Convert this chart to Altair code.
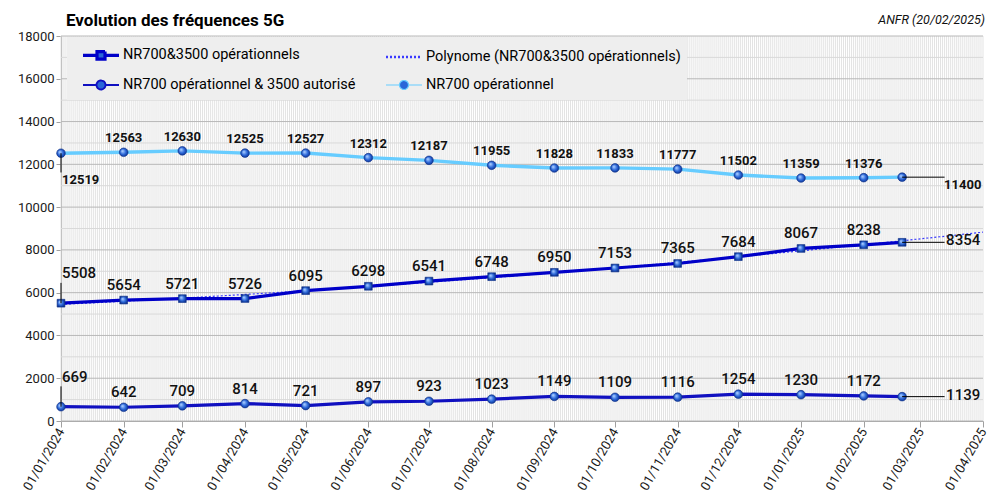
import altair as alt
import pandas as pd

# ---------------- data ----------------
dates = ["2024-01-01", "2024-02-01", "2024-03-01", "2024-04-01", "2024-05-01",
         "2024-06-01", "2024-07-01", "2024-08-01", "2024-09-01", "2024-10-01",
         "2024-11-01", "2024-12-01", "2025-01-01", "2025-02-01", "2025-02-20"]
nr700_3500_oper = [5508, 5654, 5721, 5726, 6095, 6298, 6541, 6748, 6950, 7153,
                   7365, 7684, 8067, 8238, 8354]
nr700_oper_3500_aut = [669, 642, 709, 814, 721, 897, 923, 1023, 1149, 1109,
                       1116, 1254, 1230, 1172, 1139]
nr700_oper = [12519, 12563, 12630, 12525, 12527, 12312, 12187, 11955, 11828,
              11833, 11777, 11502, 11359, 11376, 11400]
y_ticks = list(range(0, 18001, 2000))
x_start, x_end = "2024-01-01", "2025-04-01"
title_text = "Evolution des fréquences 5G"
source_text = "ANFR (20/02/2025)"

S1 = "NR700&3500 opérationnels"
S2 = "Polynome (NR700&3500 opérationnels)"
S3 = "NR700 opérationnel & 3500 autorisé"
S4 = "NR700 opérationnel"
series_order = [S1, S2, S3, S4]

rows = []
for name, vals in [(S1, nr700_3500_oper), (S3, nr700_oper_3500_aut), (S4, nr700_oper)]:
    for i, (d, v) in enumerate(zip(dates, vals)):
        rows.append({"date": d, "value": v, "series": name, "idx": i})
df = pd.DataFrame(rows)
LAST = len(dates) - 1

t0 = int(pd.Timestamp(x_start, tz="UTC").value // 10**6)
t1 = int(pd.Timestamp(x_end, tz="UTC").value // 10**6)

# ---------------- styles ----------------
FONT = "Roboto"
DARK = "#0000c8"
DARK2 = "#1010c0"
LIGHT = "#66ccff"
TREND = "#3a3aff"
MARKER = "#2a66d8"
sphere = alt.Gradient(gradient="radial",
                      stops=[alt.GradientStop(color="#a8ccff", offset=0),
                             alt.GradientStop(color="#2a66d8", offset=0.55),
                             alt.GradientStop(color="#0c2f8a", offset=1)],
                      x1=0.35, y1=0.35, r1=0.05, x2=0.5, y2=0.5, r2=0.55)

xscale = alt.Scale(type="utc",
                   domain=[alt.DateTime(year=2024, month=1, date=1, utc=True),
                           alt.DateTime(year=2025, month=4, date=1, utc=True)])
yscale = alt.Scale(domain=[0, 18000], nice=False)

xaxis = alt.Axis(format="%d/%m/%Y", tickCount="month",
                 labelAngle=300, labelAlign="right", labelBaseline="middle",
                 labelFontSize=13, labelFont=FONT, labelColor="#1a1a1a",
                 labelOverlap=False, labelPadding=2, tickSize=6,
                 tickColor="#a0a0a0", domainColor="#a0a0a0", grid=False,
                 title=None, labelBound=False, labelFlush=False)
yaxis = alt.Axis(values=y_ticks, format="d", grid=False, labelFontSize=13,
                 labelFont=FONT, labelColor="#1a1a1a", tickSize=5,
                 tickColor="#a0a0a0", domainColor="#a0a0a0", title=None,
                 labelPadding=2)

X = alt.X("date:T", scale=xscale, axis=xaxis)
Y = alt.Y("value:Q", scale=yscale, axis=yaxis)

# ---------------- grid ----------------
day_grid = alt.Chart(alt.sequence(0, 457, as_="d")).transform_calculate(
    day="utc(2024, 0, 1 + datum.d)"
).mark_rule(color="#e3e3e3", strokeWidth=1).encode(
    x=alt.X("day:T", scale=xscale, axis=xaxis))

minor_h = alt.Chart(alt.sequence(1000, 18000, 2000, as_="v")).mark_rule(
    color="#d9d9d9", strokeWidth=1).encode(y=alt.Y("v:Q", scale=yscale, axis=yaxis))
major_h = alt.Chart(alt.sequence(0, 18001, 2000, as_="v")).mark_rule(
    color="#b8b8b8", strokeWidth=1).encode(y=alt.Y("v:Q", scale=yscale, axis=yaxis))

base = alt.Chart(df)

# ---------------- trend ----------------
trend = base.transform_filter(alt.datum.series == S1).transform_calculate(
    t="time(toDate(datum.date))"
).transform_regression("t", "value", method="poly", order=2,
                       extent=[t0, t1]).mark_line(
    color=TREND, strokeWidth=1.2, strokeDash=[2, 2]).encode(
    x=alt.X("t:T", scale=xscale, axis=xaxis), y=Y)

# ---------------- lines & markers ----------------
line_s1 = base.transform_filter(alt.datum.series == S1).mark_line(
    strokeWidth=3.2, color=DARK).encode(x=X, y=Y)
line_s3 = base.transform_filter(alt.datum.series == S3).mark_line(
    strokeWidth=3.2, color=DARK2).encode(x=X, y=Y)
line_s4 = base.transform_filter(alt.datum.series == S4).mark_line(
    strokeWidth=3.4, color=LIGHT).encode(x=X, y=Y)

pts_round = base.transform_filter(alt.datum.series != S1).mark_point(
    shape="circle", filled=True, fill=sphere, size=75, stroke="#0c2f8a",
    strokeWidth=0.6, opacity=1).encode(x=X, y=Y)
pts_square = base.transform_filter(alt.datum.series == S1).mark_point(
    shape="square", filled=True, fill=sphere, size=60, stroke="#0c2f8a",
    strokeWidth=0.6, opacity=1).encode(x=X, y=Y)

# ---------------- labels ----------------
mid = "datum.idx > 0 && datum.idx < %d" % LAST
lab_top = base.transform_filter(alt.datum.series == S4).transform_filter(mid).mark_text(
    font=FONT, fontSize=13, fontWeight="bold", color="#111", dy=-14).encode(
    x=X, y=Y, text="value:Q")
lab_oth = base.transform_filter(alt.datum.series != S4).transform_filter(mid).mark_text(
    font=FONT, fontSize=15, fontWeight=500, color="#111", dy=-15).encode(
    x=X, y=Y, text="value:Q")

first_top = base.transform_filter("datum.idx == 0 && datum.series == '%s'" % S4)
lab_first_top = first_top.mark_text(font=FONT, fontSize=13, fontWeight="bold",
                                    color="#111", align="left", dx=1, dy=27).encode(
    x=X, y=Y, text="value:Q")
lead_first_top = first_top.transform_calculate(v2="datum.value - 900").mark_rule(
    color="black", strokeWidth=1).encode(x=X, y=Y, y2="v2:Q")

first_oth = base.transform_filter("datum.idx == 0 && datum.series != '%s'" % S4)
lab_first_oth = first_oth.mark_text(font=FONT, fontSize=15, fontWeight=500,
                                    color="#111", align="left", dx=1, dy=-30).encode(
    x=X, y=Y, text="value:Q")
lead_first_oth = first_oth.transform_calculate(v2="datum.value + 950").mark_rule(
    color="black", strokeWidth=1).encode(x=X, y=Y, y2="v2:Q")

last_all = base.transform_filter("datum.idx == %d" % LAST)
lead_last = last_all.transform_calculate(
    d2="time(toDate(datum.date)) + 21 * 86400000").mark_rule(
    color="black", strokeWidth=1).encode(x=X, x2="d2:T", y=Y)
lab_last_top = last_all.transform_filter(alt.datum.series == S4).mark_text(
    font=FONT, fontSize=13, fontWeight="bold", color="#111", align="left",
    dx=42, dy=8).encode(x=X, y=Y, text="value:Q")
lab_last_oth = last_all.transform_filter(alt.datum.series != S4).mark_text(
    font=FONT, fontSize=15, fontWeight=500, color="#111", align="left",
    dx=44, dy=-2).encode(x=X, y=Y, text="value:Q")

# ---------------- legend (from an empty layer) ----------------
P_LINE = "M-0.2,0H3.4"
P_CIRC = "M-0.2,0H1.15M2.05,0H3.4M1.15,0A0.45,0.45 0 1,0 2.05,0A0.45,0.45 0 1,0 1.15,0Z"
P_SQR = "M-0.2,0H1.2M2.0,0H3.4M1.2,-0.38H2.0V0.38H1.2Z"
legend_layer = base.transform_filter("false").mark_point(
    filled=True, fill=MARKER, opacity=1).encode(
    stroke=alt.Stroke("series:N", scale=alt.Scale(domain=series_order,
                                                  range=[DARK, TREND, DARK2, LIGHT]),
                      title=None),
    shape=alt.Shape("series:N", scale=alt.Scale(domain=series_order,
                                                range=[P_SQR, P_LINE, P_CIRC, P_CIRC]),
                    title=None),
    strokeWidth=alt.StrokeWidth("series:N", scale=alt.Scale(domain=series_order,
                                                            range=[3.2, 1.2, 3.2, 3.2]),
                                title=None),
    strokeDash=alt.StrokeDash("series:N", scale=alt.Scale(domain=series_order,
                                                          range=[[1, 0], [2, 2], [1, 0], [1, 0]]),
                              title=None),
)

title_mark = alt.Chart(pd.DataFrame({"s": [title_text]})).mark_text(
    align="left", baseline="alphabetic", fontWeight="bold", fontSize=17,
    font=FONT, color="black").encode(text="s:N", x=alt.value(5), y=alt.value(-10))
anfr = alt.Chart(pd.DataFrame({"s": [source_text]})).mark_text(
    align="right", baseline="alphabetic", fontStyle="italic", fontSize=12.5,
    font=FONT, color="#111").encode(text="s:N", x=alt.value(924), y=alt.value(-12))

chart = alt.layer(
    day_grid, minor_h, major_h, trend, line_s1, line_s3, line_s4,
    pts_round, pts_square,
    lead_first_top, lead_first_oth, lead_last,
    lab_top, lab_oth, lab_first_top, lab_first_oth, lab_last_top, lab_last_oth,
    legend_layer, title_mark, anfr,
).properties(
    width=922, height=385,
    autosize=alt.AutoSizeParams(type="none"),
    padding={"left": 53, "top": 28, "right": 16, "bottom": 75},
).configure_view(stroke=None).configure_legend(
    orient="none", legendX=6, legendY=1, direction="horizontal", columns=2,
    fillColor="#eeeeee", padding=6, columnPadding=20, rowPadding=8,
    symbolSize=400, labelOffset=26, labelFontSize=14.5, labelFont=FONT,
    labelColor="black", labelLimit=400, symbolOpacity=1,
)

chart.save("out.html", embed_options={"renderer": "svg", "actions": False})
